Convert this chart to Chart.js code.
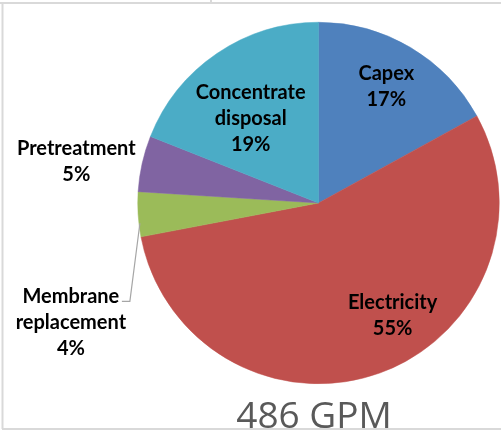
<!DOCTYPE html>
<html>
<head>
<meta charset="utf-8">
<script src="https://cdn.jsdelivr.net/npm/chart.js@4/dist/chart.umd.min.js"></script>
<style>
  html, body { margin: 0; padding: 0; background: #ffffff; }
  #wrap { width: 501px; height: 441px; position: relative; }
</style>
</head>
<body>
<div id="wrap"><canvas id="c" width="501" height="441"></canvas></div>
<script>
// Cost breakdown for a 486 GPM plant (percent of total)
const categories = ['Capex', 'Electricity', 'Membrane replacement', 'Pretreatment', 'Concentrate disposal'];
const shares = [17, 55, 4, 5, 19];
const sliceColors = ['#4F81BD', '#C0504D', '#9BBB59', '#8064A2', '#4BACC6'];
const chartTitle = '486 GPM';

// Label text lines per slice (category words + percent)
const labelLines = [
  ['Capex'],
  ['Electricity'],
  ['Membrane', 'replacement'],
  ['Pretreatment'],
  ['Concentrate', 'disposal']
];

// Label anchor in units of the pie radius, relative to the pie centre
const labelOffsets = [
  { fx: 0.375, fy: -0.645 },
  { fx: 0.41, fy: 0.625 },
  { fx: -1.37, fy: 0.66 },
  { fx: -1.34, fy: -0.23 },
  { fx: -0.375, fy: -0.465 }
];

const frameAndLabels = {
  id: 'frameAndLabels',
  beforeDraw(chart) {
    const ctx = chart.ctx;
    ctx.save();
    ctx.fillStyle = '#ffffff';
    ctx.fillRect(0, 0, chart.width, chart.height);
    ctx.strokeStyle = '#d9d9d9';
    ctx.lineWidth = 2;
    ctx.beginPath();
    ctx.moveTo(0, 3); ctx.lineTo(chart.width, 3);
    ctx.moveTo(211, 0); ctx.lineTo(211, 3);
    ctx.moveTo(2.5, 3); ctx.lineTo(2.5, 429);
    ctx.moveTo(2, 429); ctx.lineTo(chart.width, 429);
    ctx.stroke();
    ctx.restore();
  },
  afterDatasetsDraw(chart) {
    const ctx = chart.ctx;
    const meta = chart.getDatasetMeta(0);
    const arc0 = meta.data[0];
    const cx = arc0.x, cy = arc0.y, r = arc0.outerRadius;
    const total = shares.reduce((a, b) => a + b, 0);
    ctx.save();

    // leader line for the small membrane slice
    const mArc = meta.data[2];
    const mid = (mArc.startAngle + mArc.endAngle) / 2;
    const ex = cx + Math.cos(mid) * r * 0.99;
    const ey = cy + Math.sin(mid) * r * 0.99 + 9;
    const lx = cx + labelOffsets[2].fx * r;
    const ly = cy + labelOffsets[2].fy * r;
    ctx.strokeStyle = '#a6a6a6';
    ctx.lineWidth = 1.2;
    ctx.beginPath();
    ctx.moveTo(ex, ey);
    ctx.lineTo(lx + 59, ly - 21);
    ctx.lineTo(lx + 51, ly - 21);
    ctx.stroke();

    ctx.fillStyle = '#000000';
    ctx.font = 'bold 20px Lato, "Open Sans", sans-serif';
    ctx.textAlign = 'center';
    ctx.textBaseline = 'middle';
    const lineH = 26;
    meta.data.forEach((arc, i) => {
      const pct = Math.round(shares[i] / total * 100) + '%';
      const lines = labelLines[i].concat([pct]);
      const x = cx + labelOffsets[i].fx * r;
      const y = cy + labelOffsets[i].fy * r;
      const y0 = y - (lines.length - 1) * lineH / 2;
      lines.forEach((t, k) => ctx.fillText(t, x, y0 + k * lineH));
    });

    // title under the pie
    ctx.fillStyle = '#595959';
    ctx.font = '37px "Open Sans", sans-serif';
    ctx.textBaseline = 'alphabetic';
    ctx.fillText(chartTitle, 314, 428);
    ctx.restore();
  }
};

new Chart(document.getElementById('c'), {
  type: 'pie',
  data: {
    labels: categories,
    datasets: [{
      data: shares,
      backgroundColor: sliceColors,
      borderColor: sliceColors,
      borderWidth: 0.5
    }]
  },
  options: {
    responsive: false,
    animation: false,
    layout: { padding: { left: 137, right: 1, top: 22, bottom: 57 } },
    plugins: {
      legend: { display: false },
      tooltip: { enabled: false },
      title: { display: false }
    }
  },
  plugins: [frameAndLabels]
});
</script>
</body>
</html>
